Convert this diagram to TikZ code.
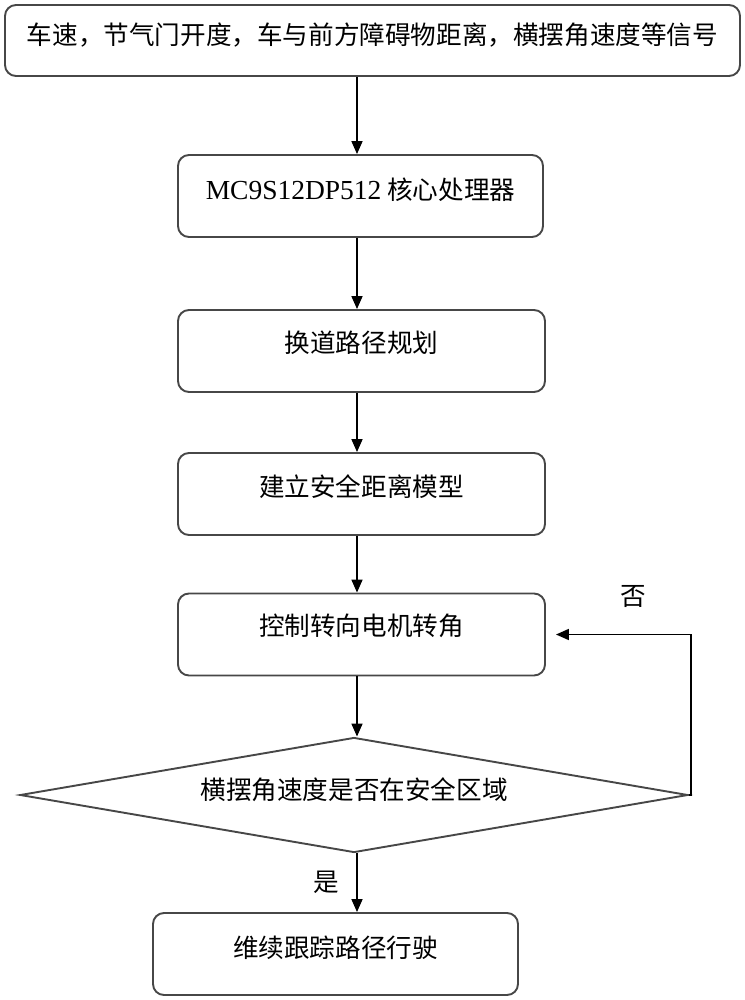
\documentclass[tikz,border=0pt]{standalone}
\usepackage{fontspec}
\setmainfont{Liberation Serif}
\newfontfamily\cjk{Noto Sans CJK SC}
\usetikzlibrary{arrows.meta,shapes.geometric}
\begin{document}
\begin{tikzpicture}[x=1pt,y=-1pt,
  procbox/.style={draw=black!72,line width=1.9pt,rounded corners=11pt,inner sep=0pt,
     minimum width=#1,minimum height=82pt},
  txt/.style={font=\cjk\fontsize{25.6}{28}\selectfont,inner sep=0pt},
  arr/.style={draw=black,line width=1.7pt,-{Triangle[length=13pt,width=11pt]}},
  decision/.style={draw=black!72,line width=1.9pt,diamond,inner sep=0pt,
     minimum width=668pt,minimum height=115pt}]
\useasboundingbox (0,0) rectangle (744,1000);
\coordinate (axis) at (357,0);
% boxes
\node[procbox=735pt,minimum height=71pt] (b1) at (372.5,40.5) {};
\node[txt] (t1) at ([yshift=5pt]b1.center) {车速，节气门开度，车与前方障碍物距离，横摆角速度等信号};
\node[procbox=365pt] (b2) at (360.5,196) {};
\node[txt] (t2) at ([yshift=6pt]b2.center) {{\fontspec{Liberation Serif}\fontsize{27.5}{30}\selectfont MC9S12DP512} 核心处理器};
\node[procbox=367pt] (b3) at (361.5,351) {};
\node[txt] (t3) at ([yshift=8pt]b3.center) {换道路径规划};
\node[procbox=367pt] (b4) at (361.5,494) {};
\node[txt] (t4) at ([yshift=7pt]b4.center) {建立安全距离模型};
\node[procbox=367pt] (b5) at (361.5,634.5) {};
\node[txt] (t5) at ([yshift=9pt]b5.center) {控制转向电机转角};
\node[decision] (d) at (354,795) {};
\node[txt] (td) at ([yshift=5pt]d.center) {横摆角速度是否在安全区域};
\node[procbox=365pt] (b6) at (335.5,954) {};
\node[txt] (t6) at ([yshift=6pt]b6.center) {维续跟踪路径行驶};
% labels
\node[txt] (no) at (633,596) {否};
\node[txt] (yes) at (326,882) {是};
% connectors
\draw[arr] (b1.south -| axis) -- (b2.north -| axis);
\draw[arr] (b2.south -| axis) -- (b3.north -| axis);
\draw[arr] (b3.south -| axis) -- (b4.north -| axis);
\draw[arr] (b4.south -| axis) -- (b5.north -| axis);
\draw[arr] (b5.south -| axis) -- (d.north -| axis);
\draw[arr] (d.south -| axis) -- (b6.north -| axis);
\draw[arr] (d.east) -- ++(2,0) |- ([xshift=10pt]b5.east);
\end{tikzpicture}
\end{document}
